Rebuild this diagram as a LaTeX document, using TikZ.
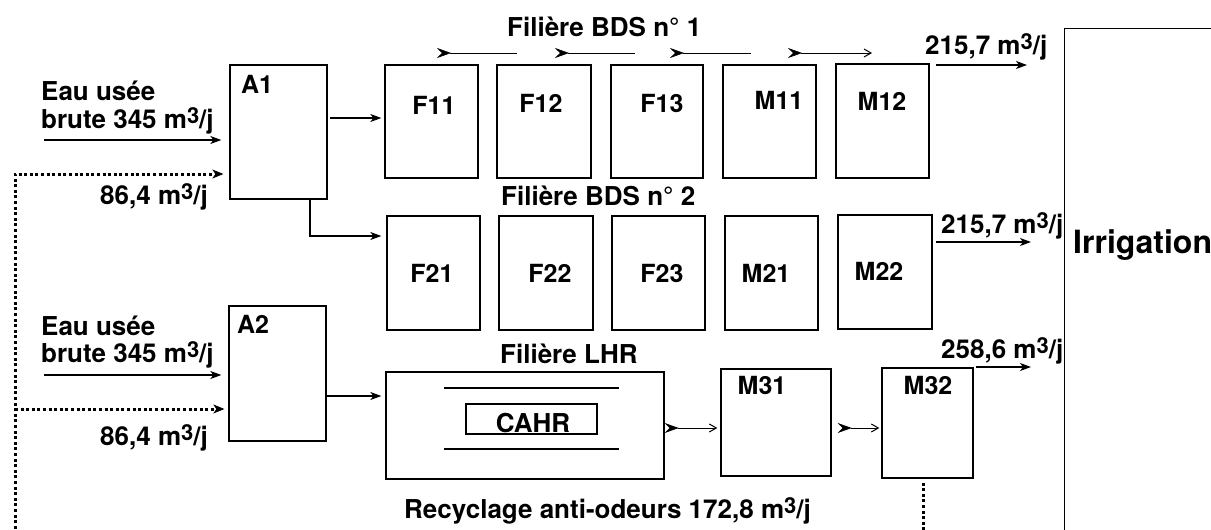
\documentclass[tikz,border=0pt]{standalone}
\usepackage{fontspec}
\setmainfont{TeX Gyre Heros}
\usetikzlibrary{arrows.meta,calc}
\newcommand\mcube{m\raisebox{4.5pt}{\fontsize{22}{22}\selectfont 3}/j}
\begin{document}
\begin{tikzpicture}[x=1pt,y=-1pt,
  box/.style={draw, line width=1.3pt, inner sep=0pt},
  txt/.style={font=\fontsize{26}{30}\selectfont\bfseries, inner sep=0pt, anchor=base west},
  blab/.style={font=\fontsize{25}{30}\selectfont\bfseries, inner sep=0pt, anchor=base},
  arr/.style={line width=1.2pt, -{Stealth[length=11pt,width=8pt,inset=3pt]}},
  thinline/.style={line width=1pt},
  chev/.style={thinline, {Stealth[reversed,length=14pt,width=10pt,inset=5pt,line width=0.6pt]}-},
  chevarr/.style={thinline, {Stealth[reversed,length=14pt,width=10pt,inset=5pt,line width=0.6pt]}-{Straight Barb[length=7pt,width=8pt,line width=1pt]}},
  dots/.style={line width=3pt, dash pattern=on 3pt off 2.6pt},
  dotarr/.style={dots, -{Stealth[length=11pt,width=9pt,inset=3pt,line width=0.8pt]}},
]
\useasboundingbox (0,0) rectangle (1211,530);
\clip (0,0) rectangle (1211,530);

% boxes
\node[box, minimum width=97, minimum height=134] (A1) at (278.5,132) {};
\node[box, minimum width=97, minimum height=135] (A2) at (277.5,373.5) {};
\node[box, minimum width=93, minimum height=113] (F11) at (431.5,121.5) {};
\node[box, minimum width=94, minimum height=113] (F12) at (544,121.5) {};
\node[box, minimum width=92, minimum height=113] (F13) at (657,121.5) {};
\node[box, minimum width=93, minimum height=113] (M11) at (769.5,121.5) {};
\node[box, minimum width=93, minimum height=114] (M12) at (882.5,121) {};
\node[box, minimum width=93, minimum height=114] (F21) at (433.5,273) {};
\node[box, minimum width=94, minimum height=114] (F22) at (546,273) {};
\node[box, minimum width=93, minimum height=114] (F23) at (658.5,273) {};
\node[box, minimum width=93, minimum height=114] (M21) at (771.5,273) {};
\node[box, minimum width=94, minimum height=114] (M22) at (885,272) {};
\node[box, minimum width=278, minimum height=107] (LHR) at (525,425.5) {};
\node[box, minimum width=131, minimum height=30] (CAHRb) at (531.5,419) {};
\node[box, minimum width=110, minimum height=107] (M31) at (776,422.5) {};
\node[box, minimum width=91, minimum height=110] (M32) at (927.5,423) {};
\node[box, anchor=north west, minimum width=200, minimum height=600] (irr) at (1064,28) {};

% lines inside LHR
\coordinate (l1a) at (444,388); \coordinate (l1b) at (619,388);
\coordinate (l2a) at (444,449); \coordinate (l2b) at (619,449);
\draw[line width=1.2pt] (l1a) -- (l1b);
\draw[line width=1.2pt] (l2a) -- (l2b);

% box labels
\node[blab] (tA1) at (257,93) {A1};
\node[blab] (tA2) at (253,333) {A2};
\node[blab] (tF11) at (434,114) {F11};
\node[blab] (tF12) at (541,112) {F12};
\node[blab] (tF13) at (662,112) {F13};
\node[blab] (tM11) at (779,109) {M11};
\node[blab] (tM12) at (882,110) {M12};
\node[blab] (tF21) at (432,282) {F21};
\node[blab] (tF22) at (550,282) {F22};
\node[blab] (tF23) at (662,282) {F23};
\node[blab] (tM21) at (766,282) {M21};
\node[blab] (tM22) at (879,280) {M22};
\node[blab] (tM31) at (762,394) {M31};
\node[blab] (tM32) at (928,394) {M32};
\node[blab, font=\fontsize{26}{30}\selectfont\bfseries] (tCAHR) at (533,432) {CAHR};
\node[txt, font=\fontsize{32}{36}\selectfont\bfseries] (tirr) at (1073,253) {Irrigation};

% texts
\node[txt] (e1a) at (41,100) {Eau usée};
\node[txt] (e1b) at (41,128) {brute 345 \mcube};
\node[txt] (e2a) at (41,335) {Eau usée};
\node[txt] (e2b) at (41,362) {brute 345 \mcube};
\node[txt] (q1) at (100,204) {86,4 \mcube};
\node[txt] (q2) at (100,445) {86,4 \mcube};
\node[txt] (fb1) at (507,36) {Filière BDS n° 1};
\node[txt] (fb2) at (501,205) {Filière BDS n° 2};
\node[txt] (flhr) at (500,363) {Filière LHR};
\node[txt] (rec) at (404,518) {Recyclage anti-odeurs 172,8 \mcube};
\node[txt] (o1) at (925,54) {215,7 \mcube};
\node[txt] (o2) at (941,233) {215,7 \mcube};
\node[txt] (o3) at (941,358) {258,6 \mcube};

% inputs
\coordinate (e1) at (44,140);
\coordinate (e2) at (44,375);
\draw[arr, shorten >=8pt] (e1) -- (e1 -| A1.west);
\draw[arr, shorten >=7pt] (e2) -- (e2 -| A2.west);

% dotted recycling
\coordinate (rb) at (15,540);
\coordinate (r1) at (15,174);
\coordinate (r2) at (15,409);
\draw[dotarr, shorten >=6pt] (rb) -- (r1) -- (r1 -| A1.west);
\draw[dotarr, shorten >=4pt] (r2) -- (r2 -| A2.west);
\coordinate (m32d) at (923,540);
\draw[dots, shorten <=4pt] (M32.south -| m32d) -- (m32d);

% A1 / A2 outputs
\coordinate (y118) at (0,118);
\draw[arr, shorten <=2pt, shorten >=3pt] (A1.east |- y118) -- (F11.west |- y118);
\coordinate (b1) at (310,236);
\draw[arr, shorten >=5pt] (A1.south -| b1) -- (b1) -- (b1 -| F21.west);
\coordinate (y396) at (0,396);
\draw[arr, shorten >=4pt] (A2.east |- y396) -- (LHR.west |- y396);

% top flow markers
\coordinate (t1s) at (437,53); \coordinate (t1e) at (517,53);
\coordinate (t2s) at (555,53); \coordinate (t2e) at (635,53);
\coordinate (t3s) at (670,53); \coordinate (t3e) at (751,53);
\coordinate (t4s) at (788,53); \coordinate (t4e) at (872,53);
\draw[chev] (t1s) -- (t1e);
\draw[chev] (t2s) -- (t2e);
\draw[chev] (t3s) -- (t3e);
\draw[chevarr] (t4s) -- (t4e);

% LHR line
\coordinate (y428) at (0,428);
\draw[chevarr, shorten >=3pt] (LHR.east |- y428) -- (M31.west |- y428);
\draw[chevarr, shorten <=6pt, shorten >=2pt] (M31.east |- y428) -- (M32.west |- y428);

% outputs
\coordinate (out1) at (1027,65);
\coordinate (out2) at (1031,242);
\coordinate (out3) at (1031,367);
\draw[arr, shorten <=6pt] (out1 -| M12.east) -- (out1);
\draw[arr, shorten <=3pt] (out2 -| M22.east) -- (out2);
\draw[arr, shorten <=2pt] (out3 -| M32.east) -- (out3);
\end{tikzpicture}
\end{document}
